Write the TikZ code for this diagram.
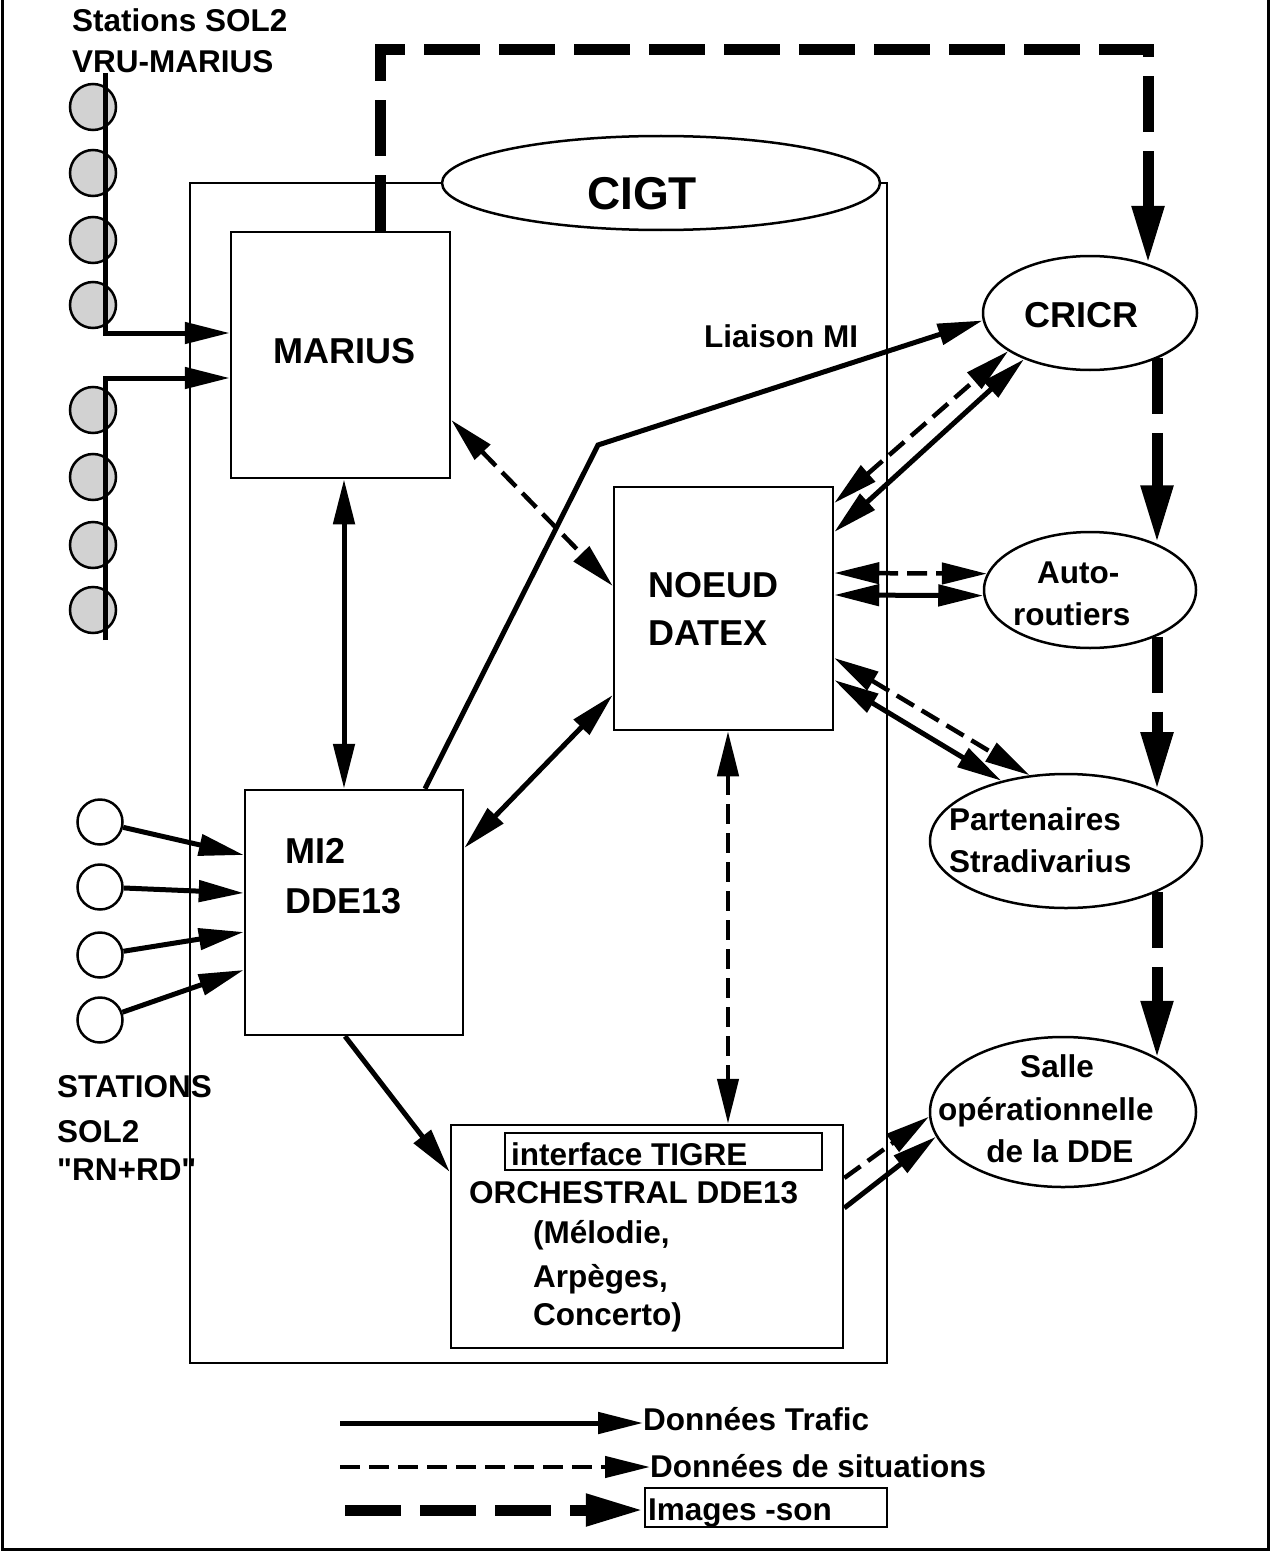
\documentclass[tikz,border=0pt]{standalone}
\usepackage{fontspec}
\setmainfont{Liberation Sans}
% same family without TeX ligatures, for straight double quotes
\newfontfamily\rawfont{Liberation Sans}
\usetikzlibrary{arrows.meta,shapes.geometric,calc}

\begin{document}
\begin{tikzpicture}[x=1pt,y=-1pt,
  >={Triangle[length=45pt,width=21pt]},
  bigfont/.style={font=\fontsize{36}{40}\selectfont\bfseries},
  midfont/.style={font=\fontsize{31.5}{36}\selectfont\bfseries},
  lbl/.style={midfont,anchor=base west,inner sep=0pt},
  biglbl/.style={bigfont,anchor=base west,inner sep=0pt},
  box/.style={draw,line width=2.5pt,inner sep=0pt},
  oval/.style={draw,ellipse,line width=2.5pt,inner sep=0pt},
  station/.style={draw,circle,line width=2.5pt,inner sep=0pt,minimum size=46pt},
  roadstation/.style={station,fill=gray!35},
  bus/.style={line width=5pt},
  traffic/.style={line width=5pt},
  situation/.style={line width=4.5pt,dash pattern=on 20pt off 9pt},
  media/.style={line width=11pt,dash pattern=on 56pt off 19pt,
                -{Triangle[length=58pt,width=30pt]}},
]
\useasboundingbox (0,0) rectangle (1271,1557);

% outer frame
\draw[line width=3pt] (2,0) -- (2,1549) -- (1268,1549) -- (1268,0);

% CIGT building
\node[oval,minimum width=438pt,minimum height=94pt] (cigt) at (661,183) {};
\node[font=\fontsize{46}{50}\selectfont\bfseries,anchor=base,inner sep=0pt] (cigtlabel) at (642,209) {CIGT};
\draw[line width=2.5pt] (cigt.west) -- (190,0 |- cigt.west) -- (190,1363) -- (887,1363)
  -- (887,0 |- cigt.east) -- (cigt.east);

% main boxes
\node[box,minimum width=219pt,minimum height=246pt] (marius) at (340.5,355) {};
\node[biglbl] (mariuslabel) at (273,363) {MARIUS};
\node[box,minimum width=219pt,minimum height=243pt] (noeud) at (723.5,608.5) {};
\node[biglbl] (noeudlabel) at (648,597) {NOEUD};
\node[biglbl] (datexlabel) at (648,645) {DATEX};
\node[box,minimum width=218pt,minimum height=245pt] (mi) at (354,912.5) {};
\node[biglbl] (milabel) at (285,863) {MI2};
\node[biglbl] (ddelabel) at (285,913) {DDE13};
\node[box,minimum width=392pt,minimum height=223pt] (orch) at (647,1236.5) {};
\node[box,minimum width=317pt,minimum height=37pt] (tigre) at (663.5,1151.5) {};
\node[lbl] (tigrelabel) at (511,1165) {interface TIGRE};
\node[lbl] (orchlabel) at (469,1203) {ORCHESTRAL DDE13};
\node[lbl] (melodie) at (533,1243) {(Mélodie,};
\node[lbl] (arpeges) at (533,1287) {Arpèges,};
\node[lbl] (concerto) at (533,1325) {Concerto)};

% partner ellipses
\node[oval,minimum width=214pt,minimum height=114pt] (cricr) at (1090,313) {};
\node[biglbl] (cricrlabel) at (1024,327) {CRICR};
\node[oval,minimum width=212pt,minimum height=116pt] (auto) at (1090,590) {};
\node[lbl] (autolabel) at (1037,583) {Auto-};
\node[lbl] (routlabel) at (1013,625) {routiers};
\node[oval,minimum width=272pt,minimum height=134pt] (part) at (1066,841) {};
\node[lbl] (partlabel) at (949,830) {Partenaires};
\node[lbl] (stradlabel) at (949,872) {Stradivarius};
\node[oval,minimum width=266pt,minimum height=150pt] (salle) at (1063,1112) {};
\node[midfont,anchor=base,inner sep=0pt] (sallelabel) at (1057,1077) {Salle};
\node[lbl] (opelabel) at (938,1120) {opérationnelle};
\node[midfont,anchor=base,inner sep=0pt] (ddelabel2) at (1060,1162) {de la DDE};

% road stations feeding MARIUS
\node[lbl] (vru1) at (72,32) {Stations SOL2};
\node[lbl] (vru2) at (72,73) {VRU-MARIUS};
\node[roadstation] (sa1) at (93,107) {};
\node[roadstation] (sa2) at (93,173) {};
\node[roadstation] (sa3) at (93,240) {};
\node[roadstation] (sa4) at (93,305) {};
\node[roadstation] (sb1) at (93,410) {};
\node[roadstation] (sb2) at (93,477) {};
\node[roadstation] (sb3) at (93,545) {};
\node[roadstation] (sb4) at (93,610) {};
\coordinate (busAtop) at (105,73);
\coordinate (busA) at (105,333);
\coordinate (busBbot) at (105,640);
\coordinate (busB) at (105,378);
\draw[bus,->] (busAtop) |- (marius.west |- busA);
\draw[bus,->] (busBbot) |- (marius.west |- busB);

% road stations feeding MI2
\node[station,minimum size=45pt] (sc1) at (100,822) {};
\node[station,minimum size=45pt] (sc2) at (100,887) {};
\node[station,minimum size=45pt] (sc3) at (100,955) {};
\node[station,minimum size=45pt] (sc4) at (100,1020) {};
\node[lbl] (st1) at (57,1097) {STATIONS};
\node[lbl] (st2) at (57,1142) {SOL2};
\node[lbl] (st3) at (57,1180) {\rawfont "RN+RD"};
\draw[traffic,->] (sc1) -- (mi.west |- 0,855);
\draw[traffic,->] (sc2) -- (mi.west |- 0,893);
\draw[traffic,->] (sc3) -- (mi.west |- 0,932);
\draw[traffic,->] (sc4) -- (mi.west |- 0,970);

% links inside the CIGT
\coordinate (bend) at (598,445);
\draw[traffic,<->] (marius.south -| 344,0) -- (mi.north -| 344,0);
\draw[situation,<->] (marius.east |- 0,420) -- (noeud.west |- 0,586);
\draw[traffic,->] (mi.north -| 425,0) -- (bend) -- (cricr.184);
\node[lbl] (liaison) at (704,347) {Liaison MI};
\draw[traffic,<->] (noeud.west |- 0,695) -- (mi.east |- 0,848);
\draw[situation,<->] (noeud.south -| 728,0) -- (orch.north -| 728,0);
\draw[traffic,->] (mi.south -| 345,0) -- (orch.west |- 0,1172);

% exchanges with partners
\draw[situation,<->] (noeud.east |- 0,503) -- (cricr.205);
\draw[traffic,<->] (noeud.east |- 0,532) -- (cricr.215);
\draw[situation,<->] (noeud.east |- 0,573) -- (auto.171);
\draw[traffic,<->] (noeud.east |- 0,595) -- (auto.183);
\draw[situation,<->] (noeud.east |- 0,658) -- (part.119);
\draw[traffic,<->] (noeud.east |- 0,680) -- (part.137);
\draw[situation,->] (orch.east |- 0,1178) -- (salle.182);
\draw[traffic,->] (orch.east |- 0,1208) -- (salle.191);

% images and sound
\coordinate (xImgTop) at (380,0);
\coordinate (yImgTop) at (0,50);
\coordinate (xRailA) at (1148,0);
\coordinate (xRail) at (1157,0);
\draw[media] (xImgTop |- marius.north) |- (xRailA |- yImgTop) -- (xRailA |- cricr.40);
\draw[media] (xRail |- cricr.-33) -- (xRail |- auto.35);
\draw[media] (xRail |- auto.-35) -- (xRail |- part.29);
\draw[media] (xRail |- part.-29) -- (xRail |- salle.29);

% legend
\node[lbl] (lgtraffic) at (643,1430) {Données Trafic};
\node[lbl] (lgsituation) at (650,1477) {Données de situations};
\node[box,minimum width=242pt,minimum height=39pt] (lgmediabox) at (766,1507.5) {};
\node[lbl] (lgmedia) at (648,1520) {Images -son};
\coordinate (lgA) at (340,1423);
\coordinate (lgB) at (340,1467);
\coordinate (lgC) at (345,1510);
\draw[traffic,->] (lgA) -- (lgtraffic.west |- lgA);
\draw[situation,->] (lgB) -- (lgsituation.west |- lgB);
\draw[media] (lgC) -- (lgmediabox.west |- lgC);
\end{tikzpicture}
\end{document}
